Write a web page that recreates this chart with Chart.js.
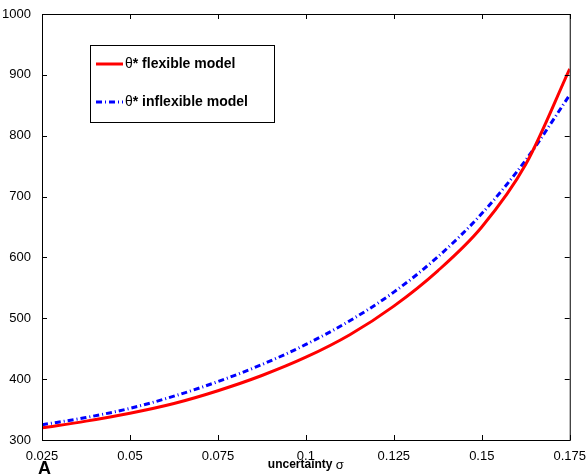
<!DOCTYPE html>
<html>
<head>
<meta charset="utf-8">
<script src="https://cdn.jsdelivr.net/npm/chart.js@4"></script>
<style>
  body { margin: 0; background: #fff; }
  #wrap { width: 587px; height: 476px; }
</style>
</head>
<body>
<div id="wrap"><canvas id="myChart"></canvas></div>
<script>
// 불확실성 sigma 값
const sigma = [0.025, 0.0375, 0.05, 0.0625, 0.075, 0.0875, 0.1, 0.1125, 0.125, 0.1375, 0.15, 0.1625, 0.175];
// theta* flexible model
const flexible = [320, 331, 344, 360, 381, 406, 436, 473, 520, 578, 650, 753, 910];
// theta* inflexible model
const inflexible = [325, 337, 352, 372, 396, 424, 457, 496, 543, 601, 672, 760, 867];
const xTicks = [0.025, 0.05, 0.075, 0.1, 0.125, 0.15, 0.175];
const yTicks = [300, 400, 500, 600, 700, 800, 900, 1000];

const ctx = document.getElementById('myChart').getContext('2d');

function toPoints(xs, ys) {
    return xs.map((x, i) => ({ x: x, y: ys[i] }));
}

// 박스 + 안쪽 눈금 + 범례 + 제목
const matlabBox = {
    id: 'matlabBox',
    afterDraw(chart) {
        const { ctx, chartArea } = chart;
        const { left, right, top, bottom } = chartArea;
        const xs = chart.scales.x, ys = chart.scales.y;
        ctx.save();
        ctx.strokeStyle = '#000';
        ctx.lineWidth = 1;
        ctx.strokeRect(left + 0.5, top + 0.5, right - left, bottom - top);
        ctx.beginPath();
        xTicks.forEach((t) => {
            const px = Math.round(xs.getPixelForValue(t)) + 0.5;
            ctx.moveTo(px, bottom); ctx.lineTo(px, bottom - 5);
            ctx.moveTo(px, top); ctx.lineTo(px, top + 5);
        });
        yTicks.forEach((t) => {
            const py = Math.round(ys.getPixelForValue(t)) + 0.5;
            ctx.moveTo(left, py); ctx.lineTo(left + 5, py);
            ctx.moveTo(right, py); ctx.lineTo(right - 5, py);
        });
        ctx.stroke();

        // 범례
        const bx = 90, by = 45, bw = 184, bh = 77;
        ctx.fillStyle = '#fff';
        ctx.fillRect(bx, by, bw, bh);
        ctx.strokeRect(bx + 0.5, by + 0.5, bw, bh);
        const items = [
            { y: 64, color: '#ff0000', dash: [], text: ' flexible model' },
            { y: 102, color: '#0000ff', dash: [6, 3, 1, 3], text: ' inflexible model' }
        ];
        items.forEach((it) => {
            ctx.beginPath();
            ctx.strokeStyle = it.color;
            ctx.lineWidth = 3;
            ctx.setLineDash(it.dash);
            ctx.moveTo(96, it.y); ctx.lineTo(123, it.y);
            ctx.stroke();
            ctx.setLineDash([]);
            ctx.fillStyle = '#000';
            ctx.textBaseline = 'middle';
            ctx.textAlign = 'left';
            ctx.font = '14px "Liberation Sans", Arial, sans-serif';
            ctx.fillText('θ', 125, it.y);
            const w = ctx.measureText('θ').width;
            ctx.font = 'bold 14px "Liberation Sans", Arial, sans-serif';
            ctx.fillText('*' + it.text, 125 + w, it.y);
        });

        // 축 제목
        ctx.fillStyle = '#000';
        ctx.textBaseline = 'middle';
        ctx.font = 'bold 12px "Liberation Sans", Arial, sans-serif';
        const tw = ctx.measureText('uncertainty ').width;
        ctx.font = '13px "Liberation Sans", Arial, sans-serif';
        const sw = ctx.measureText('σ').width;
        const cx = (left + right) / 2 - (tw + sw) / 2;
        ctx.textAlign = 'left';
        ctx.font = 'bold 12px "Liberation Sans", Arial, sans-serif';
        ctx.fillText('uncertainty ', cx, 465);
        ctx.font = '13px "Liberation Sans", Arial, sans-serif';
        ctx.fillText('σ', cx + tw, 465);
        ctx.font = 'bold 18px "Liberation Sans", Arial, sans-serif';
        ctx.fillText('A', 38, 469);
        ctx.restore();
    }
};

const myChart = new Chart(ctx, {
    type: 'scatter',
    data: {
        datasets: [{
            label: 'θ* flexible model',
            data: toPoints(sigma, flexible),
            showLine: true,
            borderColor: '#ff0000',
            borderWidth: 3,
            pointRadius: 0,
            cubicInterpolationMode: 'monotone'
        }, {
            label: 'θ* inflexible model',
            data: toPoints(sigma, inflexible),
            showLine: true,
            borderColor: '#0000ff',
            borderWidth: 3,
            borderDash: [6, 3, 1, 3],
            pointRadius: 0,
            cubicInterpolationMode: 'monotone'
        }]
    },
    options: {
        responsive: true,
        maintainAspectRatio: false,
        animation: false,
        layout: {
            padding: { left: 0, top: 14, right: 17, bottom: 0 }
        },
        plugins: {
            legend: { display: false },
            tooltip: { enabled: false }
        },
        scales: {
            x: {
                type: 'linear',
                min: 0.025,
                max: 0.175,
                afterBuildTicks: (scale) => { scale.ticks = xTicks.map((v) => ({ value: v })); },
                afterFit: (scale) => { scale.height = 36; },
                grid: { display: false },
                border: { display: false },
                ticks: {
                    color: '#000',
                    padding: 1,
                    maxRotation: 0,
                    autoSkip: false,
                    font: { family: '"Liberation Sans", Arial, sans-serif', size: 13 },
                    callback: (v) => String(v)
                }
            },
            y: {
                min: 300,
                max: 1000,
                afterBuildTicks: (scale) => { scale.ticks = yTicks.map((v) => ({ value: v })); },
                afterFit: (scale) => { scale.width = 42; },
                grid: { display: false },
                border: { display: false },
                ticks: {
                    color: '#000',
                    padding: 3,
                    font: { family: '"Liberation Sans", Arial, sans-serif', size: 13 },
                    callback: (v) => String(v)
                }
            }
        }
    },
    plugins: [matlabBox]
});
</script>
</body>
</html>
